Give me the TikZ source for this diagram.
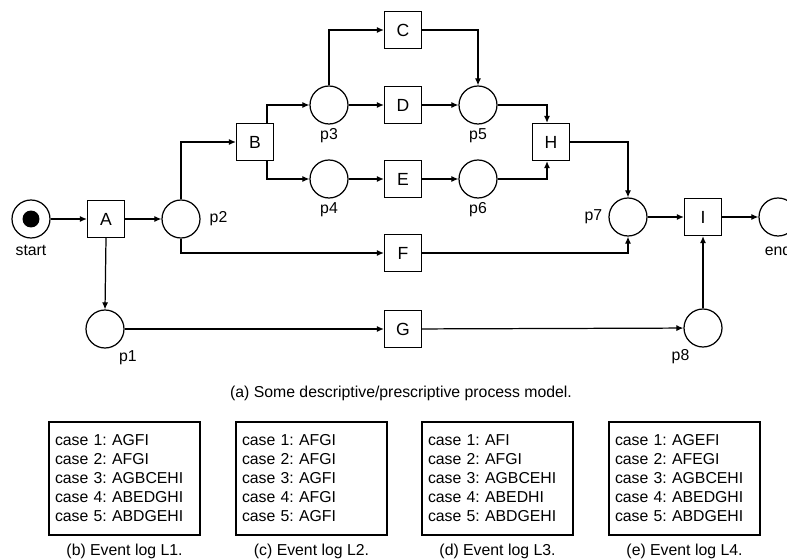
\documentclass[tikz,border=0pt]{standalone}
\usepackage{fontspec}
\setmainfont{Liberation Sans}
\usetikzlibrary{arrows.meta, positioning}

\begin{document}
\frenchspacing
\begin{tikzpicture}[
    x=0.02cm, y=-0.02cm,
    place/.style={circle, draw, line width=0.7pt, minimum size=0.76cm, inner sep=0pt},
    trans/.style={rectangle, draw, line width=0.7pt, minimum size=0.74cm, inner sep=0pt, font=\fontsize{10}{12}\selectfont},
    token/.style={circle, fill, minimum size=0.34cm, inner sep=0pt},
    lbl/.style={inner sep=1pt, font=\fontsize{9}{11}\selectfont},
    flow/.style={line width=0.7pt, -{Latex[length=4pt, width=3.5pt]}},
    logbox/.style={draw, line width=0.7pt, text width=2.78cm, inner xsep=0.12cm, minimum height=2.26cm, align=left, font=\fontsize{9}{10.8}\selectfont}
]
    \clip (0,0) rectangle (787,560);

    % 过程模型
    \node[place] (start) at (31,219) {};
    \node[token] (tok) at (start) {};
    \node[trans] (A) at (106,219) {A};
    \node[place] (p2) at (181,219) {};
    \node[trans] (B) at (255,142) {B};
    \node[place] (p3) at (329,105) {};
    \node[place] (p4) at (329,179) {};
    \node[trans] (C) at (403,30) {C};
    \node[trans] (D) at (403,105) {D};
    \node[trans] (E) at (403,179) {E};
    \node[place] (p5) at (478,105) {};
    \node[place] (p6) at (478,179) {};
    \node[trans] (H) at (551,142) {H};
    \node[trans] (F) at (403,253) {F};
    \node[place] (p7) at (628,217) {};
    \node[trans] (I) at (703,217) {I};
    \node[place] (end) at (778,217) {};
    \node[place] (p1) at (105,329) {};
    \node[trans] (G) at (403,329) {G};
    \node[place] (p8) at (703,328) {};

    \node[lbl, below=0.1cm of start] (lstart) {start};
    \node[lbl, right=0.14cm of p2] (lp2) {p2};
    \node[lbl, below=0.04cm of p3] (lp3) {p3};
    \node[lbl, below=0.04cm of p4] (lp4) {p4};
    \node[lbl, below=0.04cm of p5] (lp5) {p5};
    \node[lbl, below=0.04cm of p6] (lp6) {p6};
    \node[lbl, left=0.08cm of p7] (lp7) {p7};
    \node[lbl, below=0.1cm of end] (lend) {end};
    \node[lbl, below=0cm of p1, xshift=0.46cm] (lp1) {p1};
    \node[lbl, below=0cm of p8, xshift=-0.45cm] (lp8) {p8};

    \draw[flow] (start) -- (A);
    \draw[flow] (A) -- (p2);
    \draw[flow] (p2.north) |- (B.west);
    \draw[flow] ([xshift=0.24cm]B.north) |- (p3.west);
    \draw[flow] ([xshift=0.24cm]B.south) |- (p4.west);
    \draw[flow] (p3.north) |- (C.west);
    \draw[flow] (p3) -- (D);
    \draw[flow] (p4) -- (E);
    \draw[flow] (C.east) -| (p5.north);
    \draw[flow] (D) -- (p5);
    \draw[flow] (E) -- (p6);
    \draw[flow] (p5.east) -| ([xshift=-0.08cm]H.north);
    \draw[flow] (p6.east) -| ([xshift=-0.08cm]H.south);
    \draw[flow] (H.east) -| (p7.north);
    \draw[flow] (p2.south) |- (F.west);
    \draw[flow] (F.east) -| (p7.south);
    \draw[flow] (p7) -- (I);
    \draw[flow] (I) -- (end);
    \draw[flow] (A.south) -- (p1.north);
    \draw[flow] (p1) -- (G);
    \draw[flow] (G) -- (p8);
    \draw[flow] (p8.north) -- (I.south);

    \node[lbl] (capa) at (401,393) {(a) Some descriptive/prescriptive process model.};

    % 事件日志
    \node[logbox] (L1) at (124.5,478.5) {case 1: AGFI\\case 2: AFGI\\case 3: AGBCEHI\\case 4: ABEDGHI\\case 5: ABDGEHI};
    \node[logbox] (L2) at (311.5,478.5) {case 1: AFGI\\case 2: AFGI\\case 3: AGFI\\case 4: AFGI\\case 5: AGFI};
    \node[logbox] (L3) at (497.5,478.5) {case 1: AFI\\case 2: AFGI\\case 3: AGBCEHI\\case 4: ABEDHI\\case 5: ABDGEHI};
    \node[logbox] (L4) at (684.5,478.5) {case 1: AGEFI\\case 2: AFEGI\\case 3: AGBCEHI\\case 4: ABEDGHI\\case 5: ABDGEHI};
    \node[lbl, below=0.12cm of L1] (capb) {(b) Event log L1.};
    \node[lbl, below=0.12cm of L2] (capc) {(c) Event log L2.};
    \node[lbl, below=0.12cm of L3] (capd) {(d) Event log L3.};
    \node[lbl, below=0.12cm of L4] (cape) {(e) Event log L4.};
\end{tikzpicture}
\end{document}
